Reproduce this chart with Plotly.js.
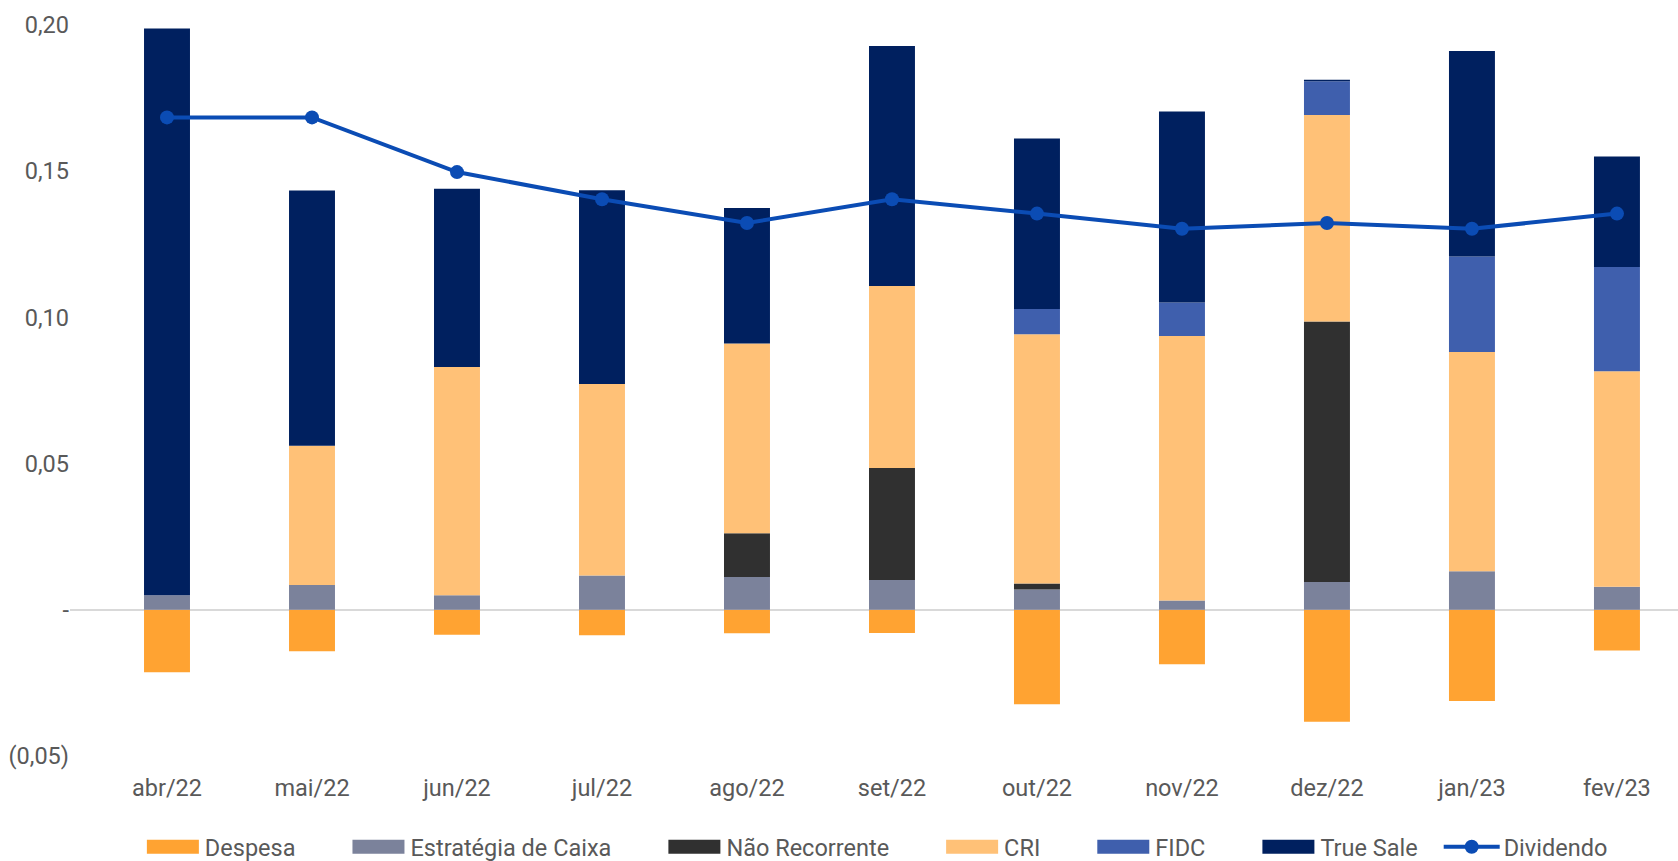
<!DOCTYPE html>
<html>
<head>
<meta charset="utf-8">
<script src="https://cdn.plot.ly/plotly-3.0.1.min.js"></script>
<style>
  html, body { margin: 0; padding: 0; background: #ffffff; }
  #chart { width: 1678px; height: 861px; }
</style>
</head>
<body>
<div id="chart"></div>
<script>
// ---- data ----
var months = ['abr/22','mai/22','jun/22','jul/22','ago/22','set/22','out/22','nov/22','dez/22','jan/23','fev/23'];
var despesa       = [-0.0214,-0.0142,-0.0085,-0.0087,-0.0080,-0.0079,-0.0323,-0.0186,-0.0383,-0.0312,-0.0139];
var estrategia    = [0.0050,0.0085,0.0050,0.0117,0.0112,0.0102,0.0069,0.0032,0.0095,0.0132,0.0079];
var naoRecorrente = [0,0,0,0,0.0150,0.0383,0.0021,0,0.0891,0,0];
var cri           = [0,0.0476,0.0780,0.0655,0.0649,0.0622,0.0852,0.0904,0.0706,0.0750,0.0737];
var fidc          = [0,0,0,0,0,0,0.0087,0.0115,0.0116,0.0326,0.0356];
var trueSale      = [0.1938,0.0873,0.0610,0.0663,0.0463,0.0821,0.0583,0.0653,0.0005,0.0703,0.0378];
var dividendo     = [0.1684,0.1684,0.1497,0.1404,0.1323,0.1404,0.1355,0.1303,0.1323,0.1303,0.1355];

var yTickVals = [-0.05, 0, 0.05, 0.10, 0.15, 0.20];
var yTickText = ['(0,05)', '-', '0,05', '0,10', '0,15', '0,20'];

// ---- styling ----
var textColor = '#595959';
var fontFamily = 'Roboto, "Noto Sans", sans-serif';
var fontSize = 23.5;
var barW = 0.317;

function barTrace(name, values, color) {
  return {
    type: 'bar', name: name, x: months, y: values, width: barW,
    marker: { color: color }, hoverinfo: 'skip'
  };
}

var traces = [
  barTrace('Despesa', despesa, '#FFA332'),
  barTrace('Estratégia de Caixa', estrategia, '#7B829B'),
  barTrace('Não Recorrente', naoRecorrente, '#303030'),
  barTrace('CRI', cri, '#FFC177'),
  barTrace('FIDC', fidc, '#3F5FAD'),
  barTrace('True Sale', trueSale, '#00205F'),
  {
    type: 'scatter', mode: 'lines+markers', name: 'Dividendo',
    x: months, y: dividendo,
    line: { color: '#0B4CB4', width: 4 },
    marker: { color: '#0B4CB4', size: 14 },
    hoverinfo: 'skip'
  }
];

var layout = {
  width: 1678, height: 861,
  margin: { l: 70, r: 0, t: 25, b: 105 },
  paper_bgcolor: '#ffffff', plot_bgcolor: '#ffffff',
  barmode: 'relative',
  font: { family: fontFamily, size: fontSize, color: textColor },
  showlegend: true,
  legend: {
    orientation: 'h',
    xref: 'paper', x: 0.4965, xanchor: 'center',
    yref: 'container', y: 0.0163, yanchor: 'middle',
    itemwidth: 100,
    font: { family: fontFamily, size: fontSize, color: textColor },
    traceorder: 'normal',
    itemclick: false, itemdoubleclick: false
  },
  xaxis: {
    type: 'category',
    range: [-0.669, 10.421],
    showgrid: false, zeroline: false, showline: false,
    ticks: 'outside', ticklen: 11, tickcolor: 'rgba(0,0,0,0)',
    tickfont: { family: fontFamily, size: fontSize, color: textColor },
    fixedrange: true
  },
  yaxis: {
    range: [-0.05, 0.20],
    tickmode: 'array', tickvals: yTickVals, ticktext: yTickText,
    showgrid: false, showline: false,
    zeroline: true, zerolinecolor: '#D9D9D9', zerolinewidth: 2,
    tickfont: { family: fontFamily, size: fontSize, color: textColor },
    fixedrange: true
  }
};

function restyleLegend() {
  var gd = document.getElementById('chart');
  var items = gd.querySelectorAll('.legend .traces');
  items.forEach(function (tr) {
    var text = tr.querySelector('text.legendtext');
    if (!text) return;
    var tb = text.getBoundingClientRect();
    var right = tb.left - 6;
    var center = right - 26;
    var line = tr.querySelector('.legendlines path');
    if (line) {
      var lb = line.getBBox();
      var lr = line.getBoundingClientRect();
      var off = lr.left - lb.x;
      var lc = center - off;
      line.setAttribute('d', 'M' + (lc - 28) + ',0h56');
      var pt = tr.querySelector('.legendsymbols path.scatterpts') || tr.querySelector('.legendpoints path');
      if (pt) {
        var pr = pt.getBoundingClientRect();
        var pcx = (pr.left + pr.right) / 2;
        var d2 = center - pcx;
        var t2 = pt.getAttribute('transform') || '';
        pt.setAttribute('transform', t2 + ' translate(' + d2 + ',0)');
      }
      // the line entry sits a little closer to its neighbour in the reference
      var tt = tr.getAttribute('transform') || '';
      tr.setAttribute('transform', tt + ' translate(-29,0)');
      return;
    }
    var bar = tr.querySelector('g.legendpoints path');
    if (bar) {
      var br = bar.getBoundingClientRect();
      var bb = bar.getBBox();
      var offB = br.left - bb.x;
      var lcB = center - offB;
      bar.setAttribute('d', 'M' + (lcB + 26) + ',7H' + (lcB - 26) + 'V-7H' + (lcB + 26) + 'Z');
    }
  });
}

Plotly.newPlot('chart', traces, layout, { staticPlot: true, displayModeBar: false })
  .then(restyleLegend);
</script>
</body>
</html>
